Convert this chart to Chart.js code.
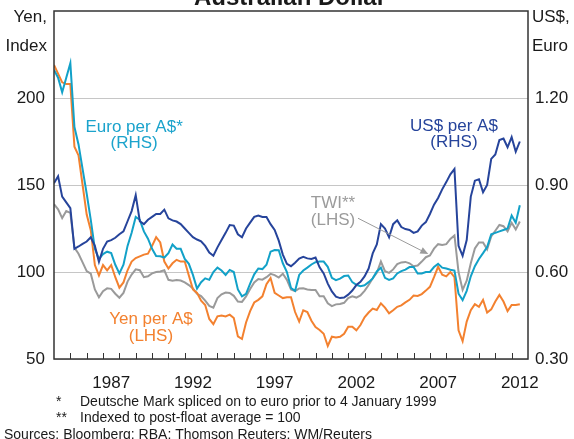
<!DOCTYPE html>
<html>
<head>
<meta charset="utf-8">
<script src="https://cdn.jsdelivr.net/npm/chart.js@4.4.0/dist/chart.umd.min.js"></script>
<style>
  html, body { margin: 0; padding: 0; background: #fff; }
</style>
</head>
<body>
<canvas id="chart" width="574" height="439"></canvas>
<script>
// Quarterly readings, first point = start of 1984
const startYear = 1984;
const step = 0.25;

// US$ per A$ (RHS)
const usd = [
  0.906,0.93,0.86,0.84,0.82,0.68,0.688,0.697,0.705,0.72,
  0.69,0.635,0.68,0.705,0.71,0.718,0.73,0.74,0.775,0.81,
  0.865,0.775,0.765,0.78,0.79,0.80,0.80,0.815,0.785,0.778,
  0.774,0.765,0.75,0.735,0.72,0.712,0.706,0.69,0.667,0.656,
  0.685,0.71,0.735,0.762,0.76,0.73,0.72,0.75,0.77,0.79,
  0.795,0.79,0.79,0.765,0.745,0.708,0.66,0.628,0.62,0.632,
  0.646,0.652,0.647,0.645,0.65,0.616,0.595,0.56,0.533,0.515,
  0.51,0.512,0.522,0.536,0.555,0.566,0.585,0.612,0.664,0.695,
  0.765,0.75,0.72,0.765,0.778,0.755,0.748,0.745,0.735,0.74,
  0.76,0.772,0.80,0.832,0.855,0.885,0.91,0.937,0.955,0.69,
  0.656,0.71,0.86,0.915,0.92,0.875,0.90,0.99,1.005,1.055,
  1.06,1.03,1.065,1.015,1.05
];

// Euro per A$ (RHS)
const euro = [
  1.297,1.27,1.22,1.27,1.32,1.10,1.04,0.955,0.87,0.78,
  0.68,0.645,0.662,0.67,0.665,0.625,0.595,0.625,0.69,0.735,
  0.79,0.78,0.74,0.715,0.68,0.655,0.654,0.65,0.665,0.695,
  0.68,0.68,0.645,0.628,0.59,0.543,0.565,0.578,0.573,0.60,
  0.615,0.605,0.59,0.607,0.60,0.54,0.516,0.525,0.56,0.592,
  0.612,0.61,0.625,0.67,0.676,0.675,0.63,0.60,0.545,0.535,
  0.59,0.605,0.615,0.626,0.634,0.636,0.636,0.618,0.58,0.572,
  0.577,0.586,0.588,0.565,0.556,0.551,0.554,0.565,0.578,0.602,
  0.615,0.58,0.573,0.578,0.595,0.603,0.608,0.617,0.617,0.595,
  0.595,0.60,0.60,0.617,0.628,0.615,0.612,0.608,0.605,0.525,
  0.503,0.535,0.585,0.62,0.645,0.665,0.686,0.73,0.735,0.74,
  0.745,0.75,0.795,0.77,0.83
];

// Yen per A$ (LHS)
const yen = [
  219,214,209,208,208,172,167,150,133,124,
  104,98,104,101,104,97,91,94,101,106,
  108,109,110,110.5,115,120,117,106,102,105,
  107,106,106,98,90,88,83.5,81,73,70,
  74.5,75,74.5,75.5,73.5,63,61.5,71,77.5,82.5,
  84,86,93,96.5,88,86.5,85,85.5,85.5,77,
  71.5,78,77,72,68.3,66.7,64.5,57.5,62.8,62.3,
  62.8,64.5,68.6,68.6,66.5,69.5,74,76.7,79,78.2,
  82,79.5,76.2,78,80,80.8,82.5,84,86.5,86.2,
  87.3,89.3,91.5,97,103,98.5,97.5,100,97,66.5,
  60.2,71.5,78,81.5,80,84,76.7,78.5,83,86.8,
  83,77.5,81,81,81.5
];

// TWI, post-float average = 100 (LHS)
const twi = [
  139,136,131,135,134,114,110.5,105.5,100.5,99,
  90,85.5,89,90.6,90.3,87.5,85.2,88,94.5,98.5,
  101.5,101,97,97.5,99.2,100,100.3,101,95.5,95,
  95.4,95.1,94,92.5,90.5,87.5,86.2,83.5,80.5,79.5,
  85,87.2,88.2,88,86.3,83,82.8,86,90.2,94,
  96,95.6,97,98.9,98.2,96.8,99,95.5,90,89,
  90.5,90.6,90,89.7,89.7,86,86,82,80.4,81.4,
  81.6,82.3,85,86,85.3,86.5,89.2,92.5,96.4,99.5,
  106,100.5,99.5,101.5,104.5,105.5,105.8,105,103.3,103.7,
  106,108.5,109.5,113.4,116,115.5,116,119,121,100,
  89.7,95,105,113.5,117,117,113,120.4,123.7,127,
  126.3,123.3,128.3,124.5,129
];

const yearLabels = [1987, 1992, 1997, 2002, 2007, 2012];
const leftTicks = [50, 100, 150, 200];
const rightTicks = [0.30, 0.60, 0.90, 1.20];

const footnotes = [
  ['*', 'Deutsche Mark spliced on to euro prior to 4 January 1999'],
  ['**', 'Indexed to post-float average = 100']
];
const sourceNote = 'Sources: Bloomberg; RBA; Thomson Reuters; WM/Reuters';

const FONT = '"Liberation Sans", Arial, Helvetica, sans-serif';
const INK = '#1a1a1a';

const quarters = usd.map((_, i) => startYear + i * step);
const toPoints = arr => arr.map((v, i) => ({x: quarters[i], y: v}));

// in-chart labels, anchored in (year, LHS value) space
const seriesLabels = [
  {lines: ['Euro per A$*', '(RHS)'], year: 1988.9, value: 180.6, color: '#1ba3cc'},
  {lines: ['US$ per A$', '(RHS)'], year: 2008.47, value: 181.2, color: '#26449b'},
  {lines: ['TWI**', '(LHS)'], year: 2001.07, value: 136.6, color: '#9b9b9b'},
  {lines: ['Yen per A$', '(LHS)'], year: 1989.93, value: 70.1, color: '#f3812f'}
];
const twiArrow = {from: [2002.6, 130.9], to: [2006.9, 110.3]};

const extras = {
  id: 'extras',
  afterDraw(chart) {
    const {ctx, chartArea: a, scales: {x, y}} = chart;
    ctx.save();

    // frame
    ctx.strokeStyle = '#333';
    ctx.lineWidth = 1.5;
    ctx.strokeRect(a.left, a.top, a.right - a.left, a.bottom - a.top);

    // year ticks, pointing inward
    ctx.lineWidth = 1;
    ctx.beginPath();
    for (let yr = startYear + 1; yr <= 2012; yr++) {
      const px = Math.round(x.getPixelForValue(yr)) + 0.5;
      ctx.moveTo(px, a.bottom);
      ctx.lineTo(px, a.bottom - 6);
    }
    ctx.stroke();

    // series labels
    ctx.font = '17px ' + FONT;
    ctx.textAlign = 'center';
    ctx.textBaseline = 'alphabetic';
    seriesLabels.forEach(l => {
      const px = x.getPixelForValue(l.year);
      const py = y.getPixelForValue(l.value);
      ctx.fillStyle = l.color;
      l.lines.forEach((t, i) => ctx.fillText(t, px, py + i * 16.7));
    });

    // TWI pointer
    const x0 = x.getPixelForValue(twiArrow.from[0]), y0 = y.getPixelForValue(twiArrow.from[1]);
    const x1 = x.getPixelForValue(twiArrow.to[0]), y1 = y.getPixelForValue(twiArrow.to[1]);
    const ang = Math.atan2(y1 - y0, x1 - x0);
    ctx.strokeStyle = '#9b9b9b';
    ctx.fillStyle = '#9b9b9b';
    ctx.lineWidth = 1;
    ctx.beginPath();
    ctx.moveTo(x0, y0);
    ctx.lineTo(x1 - 6 * Math.cos(ang), y1 - 6 * Math.sin(ang));
    ctx.stroke();
    ctx.beginPath();
    ctx.moveTo(x1, y1);
    ctx.lineTo(x1 - 8 * Math.cos(ang) + 3.5 * Math.sin(ang), y1 - 8 * Math.sin(ang) - 3.5 * Math.cos(ang));
    ctx.lineTo(x1 - 8 * Math.cos(ang) - 3.5 * Math.sin(ang), y1 - 8 * Math.sin(ang) + 3.5 * Math.cos(ang));
    ctx.closePath();
    ctx.fill();

    // title (partly above the page)
    ctx.fillStyle = INK;
    ctx.font = 'bold 24px ' + FONT;
    ctx.textAlign = 'center';
    ctx.fillText('Australian Dollar', 290, 5);

    // axis titles
    ctx.font = '17px ' + FONT;
    ctx.textAlign = 'right';
    ctx.fillText('Yen,', a.left - 7, 22);
    ctx.fillText('Index', a.left - 7, 51);
    ctx.textAlign = 'left';
    ctx.fillText('US$,', a.right + 4, 22);
    ctx.fillText('Euro', a.right + 4, 51);

    // footnotes
    ctx.font = '14px ' + FONT;
    footnotes.forEach((f, i) => {
      const by = 405.5 + i * 16.5;
      ctx.fillText(f[0], 56, by);
      ctx.fillText(f[1], 80, by);
    });
    ctx.fillText(sourceNote, 4, 438.5);

    ctx.restore();
  }
};

const lineStyle = color => ({
  borderColor: color,
  borderWidth: 2,
  pointRadius: 0,
  tension: 0,
  fill: false
});

// drop the label overhang padding so the plot box sits where the reference has it
const noPad = s => { s.paddingTop = 0; s.paddingBottom = 0; s.paddingLeft = 0; s.paddingRight = 0; };

new Chart(document.getElementById('chart').getContext('2d'), {
  type: 'line',
  data: {
    datasets: [
      {label: 'US$ per A$', data: toPoints(usd), yAxisID: 'y1', ...lineStyle('#26449b')},
      {label: 'Euro per A$', data: toPoints(euro), yAxisID: 'y1', ...lineStyle('#12a1c8')},
      {label: 'Yen per A$', data: toPoints(yen), yAxisID: 'y', ...lineStyle('#f3812f')},
      {label: 'TWI', data: toPoints(twi), yAxisID: 'y', ...lineStyle('#9a9a9a')}
    ]
  },
  options: {
    responsive: false,
    animation: false,
    layout: {padding: {top: 11, left: 0, right: 0, bottom: 0}},
    plugins: {legend: {display: false}, tooltip: {enabled: false}},
    scales: {
      x: {
        type: 'linear',
        min: startYear,
        max: 2013,
        grid: {display: false, drawTicks: false},
        border: {display: false},
        afterBuildTicks: s => { s.ticks = yearLabels.map(v => ({value: v + 0.5})); },
        afterFit: s => { s.height = 80; noPad(s); },
        ticks: {
          autoSkip: false, maxRotation: 0, padding: 14,
          color: INK, font: {family: FONT, size: 17},
          callback: v => String(Math.floor(v))
        }
      },
      y: {
        position: 'left',
        min: 50,
        max: 250,
        grid: {color: '#c6c6c6', lineWidth: 1, drawTicks: false},
        border: {display: false},
        afterBuildTicks: s => { s.ticks = leftTicks.map(v => ({value: v})); },
        afterFit: s => { s.width = 54; noPad(s); },
        ticks: {padding: 9, color: INK, font: {family: FONT, size: 17}}
      },
      y1: {
        position: 'right',
        min: 0.30,
        max: 1.50,
        grid: {display: false, drawTicks: false},
        border: {display: false},
        afterBuildTicks: s => { s.ticks = rightTicks.map(v => ({value: v})); },
        afterFit: s => { s.width = 46; noPad(s); },
        ticks: {padding: 7, color: INK, font: {family: FONT, size: 17}, callback: v => v.toFixed(2)}
      }
    }
  },
  plugins: [extras]
});
</script>
</body>
</html>
